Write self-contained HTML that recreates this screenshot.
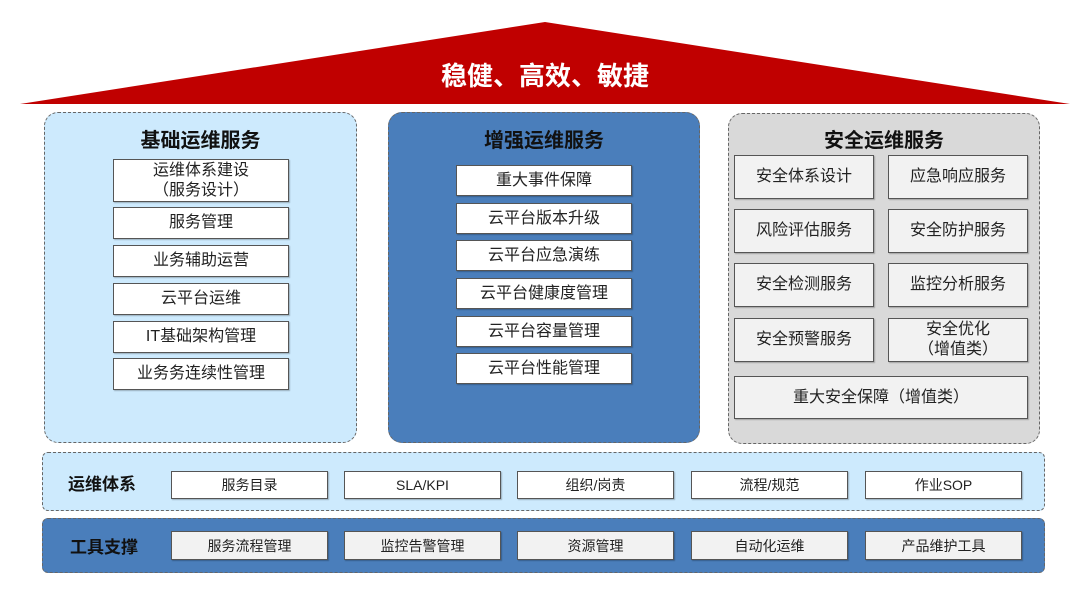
<!DOCTYPE html>
<html><head><meta charset="utf-8"><style>
body{margin:0;width:1080px;height:601px;background:#fff;position:relative;overflow:hidden;font-family:"Liberation Sans","Noto Sans CJK SC",sans-serif;}
.a{position:absolute;box-sizing:border-box;}
.p{border:1.5px dashed #666;border-radius:14px;}
.t{font-weight:bold;font-size:20px;color:#111;text-align:center;}
.b{position:absolute;box-sizing:border-box;border:1.5px solid #555;background:#fff;display:flex;align-items:center;justify-content:center;text-align:center;font-size:16px;color:#222;line-height:20px;box-shadow:1px 1px 1px rgba(0,0,0,.25);}
.g{background:#f2f2f2;}
</style></head><body>
<svg class="a" style="left:0;top:0" width="1080" height="110"><polygon points="20,104 545,22 1070,104" fill="#c00000"/></svg>
<div class="a" style="left:0;top:56px;width:1090px;text-align:center;color:#fff;font-weight:bold;font-size:26px;">稳健、高效、敏捷</div>

<div class="a p" style="left:44px;top:112px;width:313px;height:331px;background:#cdeafd"></div>
<div class="a t" style="left:44px;top:124px;width:313px">基础运维服务</div>
<div class="b" style="left:113px;top:159px;width:176px;height:43px">运维体系建设<br>（服务设计）</div>
<div class="b" style="left:113px;top:207px;width:176px;height:32px">服务管理</div>
<div class="b" style="left:113px;top:245px;width:176px;height:32px">业务辅助运营</div>
<div class="b" style="left:113px;top:283px;width:176px;height:32px">云平台运维</div>
<div class="b" style="left:113px;top:321px;width:176px;height:32px">IT基础架构管理</div>
<div class="b" style="left:113px;top:358px;width:176px;height:32px">业务务连续性管理</div>

<div class="a p" style="left:388px;top:112px;width:312px;height:331px;background:#4a7ebb"></div>
<div class="a t" style="left:388px;top:124px;width:312px">增强运维服务</div>
<div class="b" style="left:456px;top:165px;width:176px;height:31px">重大事件保障</div>
<div class="b" style="left:456px;top:203px;width:176px;height:31px">云平台版本升级</div>
<div class="b" style="left:456px;top:240px;width:176px;height:31px">云平台应急演练</div>
<div class="b" style="left:456px;top:278px;width:176px;height:31px">云平台健康度管理</div>
<div class="b" style="left:456px;top:316px;width:176px;height:31px">云平台容量管理</div>
<div class="b" style="left:456px;top:353px;width:176px;height:31px">云平台性能管理</div>

<div class="a p" style="left:728px;top:113px;width:312px;height:331px;background:#d9d9d9"></div>
<div class="a t" style="left:728px;top:124px;width:312px">安全运维服务</div>
<div class="b g" style="left:734px;top:155px;width:140px;height:44px">安全体系设计</div>
<div class="b g" style="left:888px;top:155px;width:140px;height:44px">应急响应服务</div>
<div class="b g" style="left:734px;top:209px;width:140px;height:44px">风险评估服务</div>
<div class="b g" style="left:888px;top:209px;width:140px;height:44px">安全防护服务</div>
<div class="b g" style="left:734px;top:263px;width:140px;height:44px">安全检测服务</div>
<div class="b g" style="left:888px;top:263px;width:140px;height:44px">监控分析服务</div>
<div class="b g" style="left:734px;top:318px;width:140px;height:44px">安全预警服务</div>
<div class="b g" style="left:888px;top:318px;width:140px;height:44px">安全优化<br>（增值类）</div>
<div class="b g" style="left:734px;top:376px;width:294px;height:43px">重大安全保障（增值类）</div>

<div class="a p" style="left:42px;top:452px;width:1003px;height:59px;border-radius:6px;background:#cdeafd"></div>
<div class="a" style="left:68px;top:470px;font-weight:bold;font-size:17px;color:#111">运维体系</div>
<div class="b" style="left:171px;top:471px;width:157px;height:28px;font-size:14px">服务目录</div>
<div class="b" style="left:344px;top:471px;width:157px;height:28px;font-size:14px">SLA/KPI</div>
<div class="b" style="left:517px;top:471px;width:157px;height:28px;font-size:14px">组织/岗责</div>
<div class="b" style="left:691px;top:471px;width:157px;height:28px;font-size:14px">流程/规范</div>
<div class="b" style="left:865px;top:471px;width:157px;height:28px;font-size:14px">作业SOP</div>

<div class="a p" style="left:42px;top:518px;width:1003px;height:55px;border-radius:6px;background:#4a7ebb"></div>
<div class="a" style="left:70px;top:533px;font-weight:bold;font-size:17px;color:#111">工具支撑</div>
<div class="b g" style="left:171px;top:531px;width:157px;height:29px;font-size:14px">服务流程管理</div>
<div class="b g" style="left:344px;top:531px;width:157px;height:29px;font-size:14px">监控告警管理</div>
<div class="b g" style="left:517px;top:531px;width:157px;height:29px;font-size:14px">资源管理</div>
<div class="b g" style="left:691px;top:531px;width:157px;height:29px;font-size:14px">自动化运维</div>
<div class="b g" style="left:865px;top:531px;width:157px;height:29px;font-size:14px">产品维护工具</div>
</body></html>
